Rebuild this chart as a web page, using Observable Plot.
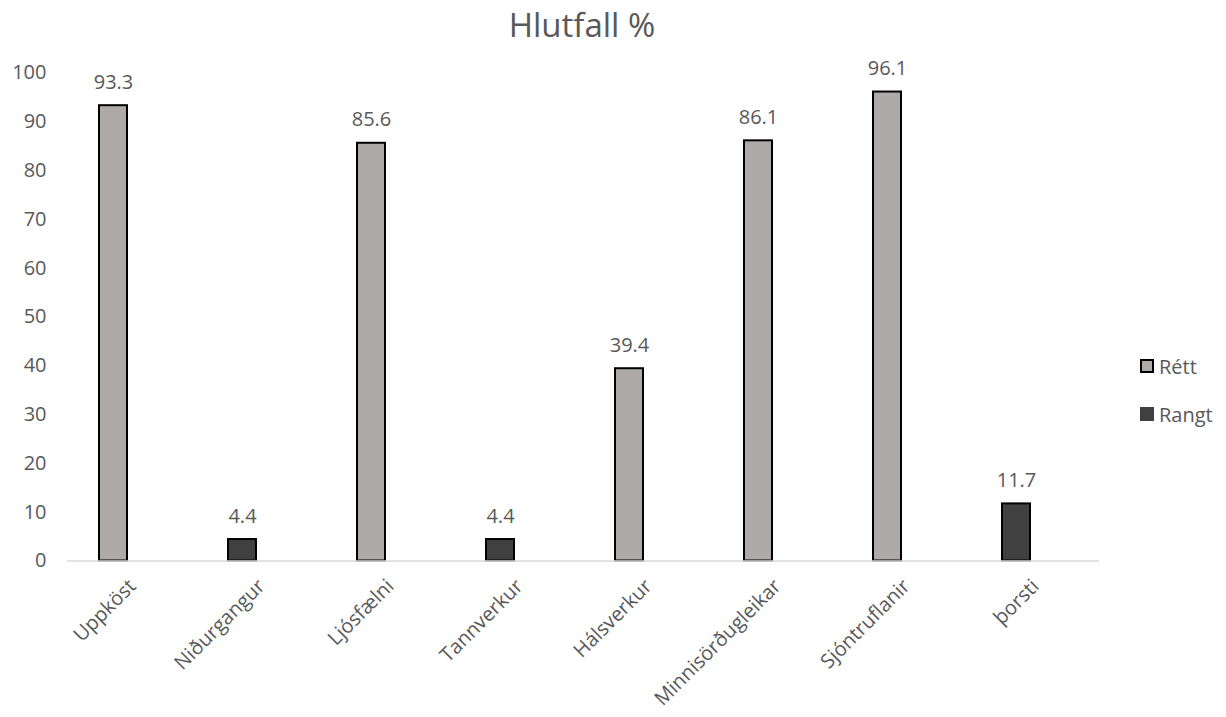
<!DOCTYPE html>
<html>
<head>
<meta charset="utf-8">
<script src="https://cdn.jsdelivr.net/npm/d3@7"></script>
<script src="https://cdn.jsdelivr.net/npm/@observablehq/plot@0.6"></script>
<style>
  body { margin: 0; background: #fff; font-family: "Open Sans", sans-serif; }
  #wrap { position: relative; width: 1226px; height: 717px; }
  #title { position: absolute; left: 0; width: 1164px; top: 2px; text-align: center; font-size: 33px; color: #595959; }
  #legend { position: absolute; left: 1140px; top: 342px; font-size: 20px; color: #595959; }
  .item { display: flex; align-items: center; height: 48px; }
  .sw { width: 14px; height: 14px; margin-right: 5px; box-sizing: border-box; }
</style>
</head>
<body>
<div id="wrap">
  <div id="title">Hlutfall %</div>
  <div id="chart"></div>
  <div id="legend"></div>
</div>
<script>
const categories = ["Uppköst", "Niðurgangur", "Ljósfælni", "Tannverkur", "Hálsverkur", "Minnisörðugleikar", "Sjóntruflanir", "þorsti"];
const values = [93.3, 4.4, 85.6, 4.4, 39.4, 86.1, 96.1, 11.7];
const series = ["Rétt", "Rangt", "Rétt", "Rangt", "Rétt", "Rétt", "Rétt", "Rangt"];
const seriesNames = ["Rétt", "Rangt"];
const seriesColors = ["#aeaaaa", "#404040"];
const yTicks = [0, 10, 20, 30, 40, 50, 60, 70, 80, 90, 100];

const data = categories.map((c, i) => ({category: c, value: values[i], series: series[i]}));

const barOffset = -18.5;

const chart = Plot.plot({
  width: 1226,
  height: 717,
  marginLeft: 67,
  marginRight: 127,
  marginTop: 72.5,
  marginBottom: 156.5,
  style: {fontFamily: "Open Sans, sans-serif", color: "#595959", background: "transparent"},
  x: {domain: categories, padding: 0, axis: null},
  y: {domain: [0, 100], axis: null},
  color: {domain: seriesNames, range: seriesColors},
  marks: [
    Plot.axisY({ticks: yTicks, tickSize: 0, tickPadding: 21, fontSize: 20, fill: "#595959", label: null}),
    Plot.barY(data, {x: "category", y: "value", fill: "series", stroke: "#000", strokeWidth: 2, insetLeft: 50.5, insetRight: 50.5, dx: barOffset}),
    Plot.ruleY([0], {stroke: "#d9d9d9", strokeWidth: 1.5}),
    Plot.text(data, {x: "category", y: "value", text: d => d.value.toFixed(1), dx: barOffset, dy: -17, lineAnchor: "bottom", fontSize: 20, fill: "#595959"}),
    Plot.text(categories, {x: d => d, frameAnchor: "bottom", text: d => d, rotate: -45, textAnchor: "end", lineAnchor: "middle", dx: barOffset + 19, dy: 22, fontSize: 20, fill: "#595959"})
  ]
});
document.getElementById("chart").appendChild(chart);

const legend = document.getElementById("legend");
seriesNames.forEach((s, i) => {
  const item = document.createElement("div");
  item.className = "item";
  const sw = document.createElement("div");
  sw.className = "sw";
  sw.style.background = seriesColors[i];
  if (i === 0) sw.style.border = "2px solid #000";
  item.appendChild(sw);
  const t = document.createElement("span");
  t.textContent = s;
  item.appendChild(t);
  legend.appendChild(item);
});
</script>
</body>
</html>
